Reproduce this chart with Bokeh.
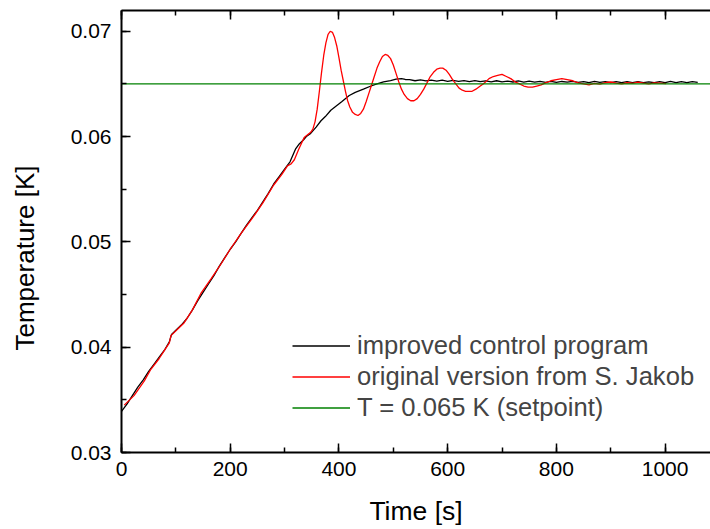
from bokeh.plotting import figure
from bokeh.models import (LinearAxis, SingleIntervalTicker, PrintfTickFormatter,
                          CustomJSTickFormatter, Legend, LegendItem, Range1d, Title)
from bokeh.embed import file_html
from bokeh.resources import INLINE

# ---------------- data ----------------
improved_t = [0, 10, 20, 30, 40, 50, 60, 70, 80, 88, 92, 100, 110, 120, 130, 140,
              150, 160, 170, 180, 190, 200, 210, 220, 230, 240, 250, 260, 270, 280,
              290, 300, 310, 315, 320, 327, 335, 340, 348, 358, 367, 375, 385, 395,
              405, 419, 430, 445, 459, 470, 482, 495, 505, 515, 522,
              530, 540, 550, 560, 570, 580, 590, 600, 610, 620, 630, 640, 650, 660,
              670, 680, 690, 700, 710, 720, 730, 740, 750, 760, 770, 780, 790, 800,
              810, 820, 830, 840, 850, 860, 870, 880, 890, 900, 910, 920, 930, 940,
              950, 960, 970, 980, 990, 1000, 1010, 1020, 1030, 1040, 1050, 1060]
improved_T = [0.0339, 0.0346, 0.0354, 0.0362, 0.0369, 0.0377, 0.0384, 0.0391, 0.0398,
              0.0405, 0.0412, 0.0416, 0.0421, 0.0427, 0.0435, 0.0444, 0.0452, 0.0460,
              0.0468, 0.0477, 0.0485, 0.0493, 0.0500, 0.0508, 0.0516, 0.0523, 0.0530,
              0.0538, 0.0546, 0.0555, 0.0562, 0.0569, 0.0576, 0.0582, 0.0588, 0.0593,
              0.0597, 0.0600, 0.0603, 0.0609, 0.0615, 0.0619, 0.0625, 0.0629, 0.0633,
              0.0639, 0.0642, 0.0645, 0.0648, 0.0650, 0.0652, 0.06532, 0.06545,
              0.06550, 0.06542,
              0.06540, 0.06530, 0.06538, 0.06528, 0.06536, 0.06527, 0.06535, 0.06525,
              0.06533, 0.06524, 0.06532, 0.06522, 0.06531, 0.06521, 0.06529, 0.06520,
              0.06530, 0.06519, 0.06527, 0.06518, 0.06528, 0.06517, 0.06526, 0.06516,
              0.06525, 0.06515, 0.06524, 0.06514, 0.06523, 0.06516, 0.06525, 0.06514,
              0.06522, 0.06513, 0.06523, 0.06514, 0.06521, 0.06512, 0.06522, 0.06513,
              0.06521, 0.06512, 0.06522, 0.06513, 0.06520, 0.06511, 0.06521, 0.06513,
              0.06523, 0.06513, 0.06522, 0.06512, 0.06521, 0.06514]

original_t = [5, 23, 42, 54, 69, 79, 88, 91, 103, 115, 130, 146, 165, 183, 200, 220,
              240, 260, 280, 295, 305, 312, 318, 326, 336,
              348, 352, 356, 360, 364, 368, 372, 376, 380, 384, 388, 392, 396, 400,
              404, 408, 412, 416, 420, 425, 430, 435, 440, 445, 450, 455, 460, 465,
              470, 475, 480, 485, 490, 495, 500, 505, 510, 515, 520, 526, 532, 538,
              544, 550, 556, 562, 568, 574, 580, 586, 591, 597, 603, 609, 615, 621,
              627, 633, 639, 645, 652, 660, 668, 676, 684, 692, 700, 708, 716, 724,
              732, 740, 748, 756, 764, 772, 780, 790, 800, 810, 820, 830, 840, 850,
              860, 870, 880, 890, 900, 910, 920, 930, 940, 950, 960, 970, 980, 990,
              1002]
original_T = [0.0345, 0.0354, 0.0368, 0.0379, 0.0389, 0.0397, 0.0404, 0.0411, 0.0417,
              0.0423, 0.0435, 0.0451, 0.0465, 0.0479, 0.0493, 0.0508, 0.0522, 0.0537,
              0.0554, 0.0564, 0.0572, 0.0574, 0.0578, 0.0588, 0.0599,
              0.0604, 0.0607, 0.0614, 0.0626, 0.0643, 0.0661, 0.0677, 0.0689, 0.0697,
              0.0700, 0.0699, 0.0694, 0.0686, 0.0675, 0.0663, 0.0653, 0.0643, 0.0634,
              0.0628, 0.0623, 0.0621, 0.0620, 0.0622, 0.0626, 0.0633, 0.0641, 0.0649,
              0.0657, 0.0665, 0.0671, 0.0676, 0.0678, 0.0677, 0.0674, 0.0668, 0.0660,
              0.0652, 0.0645, 0.0640, 0.0636, 0.0634, 0.0634, 0.0636, 0.0640, 0.0645,
              0.0651, 0.0657, 0.0661, 0.0664, 0.0665, 0.0665, 0.0663, 0.0659, 0.0654,
              0.0650, 0.0646, 0.0644, 0.0643, 0.0643, 0.0643, 0.0645, 0.0648, 0.0651,
              0.0655, 0.0657, 0.0658, 0.0659, 0.0657, 0.0655, 0.0652, 0.0650, 0.0648,
              0.0647, 0.0647, 0.0648, 0.0649, 0.0651, 0.0653, 0.0654, 0.0655, 0.0654,
              0.0653, 0.0651, 0.0650, 0.0649, 0.06505, 0.06498, 0.06512, 0.06518,
              0.06508, 0.06500, 0.06511, 0.06506, 0.06516, 0.06508, 0.06500, 0.06510,
              0.06507, 0.06502]

setpoint_T = 0.065

labels = ["improved control program", "original version from S. Jakob",
          "T = 0.065 K (setpoint)"]
x_title = "Time [s]"
y_title = "Temperature [K]"

x_min, x_max = 0, 1083.5
y_min, y_max = 0.03, 0.07197

FONT = "Liberation Sans"

p = figure(width=710, height=529, output_backend="svg", toolbar_location=None,
           x_range=Range1d(x_min, x_max), y_range=Range1d(y_min, y_max),
           min_border_left=121, min_border_right=0, min_border_top=10,
           min_border_bottom=77, outline_line_color=None,
           x_axis_label=x_title)
p.xgrid.visible = False
p.ygrid.visible = False
p.background_fill_color = "white"
p.border_fill_color = "white"

p.xaxis.ticker = SingleIntervalTicker(interval=200, num_minor_ticks=2)
p.yaxis.ticker = SingleIntervalTicker(interval=0.01, num_minor_ticks=2)
p.yaxis.formatter = PrintfTickFormatter(format="%.2f")


def style(ax):
    ax.axis_line_width = 2
    ax.axis_line_color = "black"
    ax.major_tick_in = 9
    ax.major_tick_out = 0
    ax.minor_tick_in = 5
    ax.minor_tick_out = 0
    ax.major_tick_line_width = 1.5
    ax.minor_tick_line_width = 1.5
    ax.major_tick_line_color = "black"
    ax.minor_tick_line_color = "black"
    ax.major_label_text_font = FONT
    ax.major_label_text_font_size = "21px"
    ax.major_label_text_color = "black"
    ax.axis_label_text_font = FONT
    ax.axis_label_text_font_size = "26.5px"
    ax.axis_label_text_font_style = "normal"
    ax.axis_label_text_color = "black"


for ax in p.xaxis + p.yaxis:
    style(ax)
p.xaxis.major_label_standoff = 9
p.yaxis.major_label_standoff = 10
p.xaxis.axis_label_standoff = 17

top = LinearAxis(ticker=SingleIntervalTicker(interval=200, num_minor_ticks=2),
                 formatter=CustomJSTickFormatter(code="return ''"))
style(top)
top.major_label_standoff = 0
p.add_layout(top, "above")

# invisible spacer axis between the tick labels and the y title
spacer = LinearAxis(ticker=SingleIntervalTicker(interval=0.01, num_minor_ticks=0),
                    formatter=CustomJSTickFormatter(code="return ''"),
                    axis_line_color=None, major_tick_line_color=None,
                    minor_tick_line_color=None, major_tick_in=0, major_tick_out=23,
                    minor_tick_in=0, minor_tick_out=0, major_label_standoff=0)
p.add_layout(spacer, "left")

# y-axis title as a side title, starting above the frame bottom as in the reference
ytitle = Title(text=y_title, align="left", offset=102, text_font=FONT,
               text_font_size="26px", text_font_style="normal",
               text_color="black")
p.add_layout(ytitle, "left")

r_imp = p.line(improved_t, improved_T, line_color="black", line_width=1.3)
r_orig = p.line(original_t, original_T, line_color="#ff0000", line_width=1.3)
r_set = p.line([x_min, x_max], [setpoint_T, setpoint_T], line_color="#008000",
               line_width=1.3)

legend = Legend(items=[LegendItem(label=labels[0], renderers=[r_imp]),
                       LegendItem(label=labels[1], renderers=[r_orig]),
                       LegendItem(label=labels[2], renderers=[r_set])],
                location=(171, 29), border_line_color=None,
                background_fill_alpha=0, padding=0, margin=0, spacing=0,
                glyph_width=58, glyph_height=31, label_height=31,
                label_standoff=7, label_text_font=FONT,
                label_text_font_size="25.6px")
p.add_layout(legend)

open("out.html", "w").write(file_html(p, INLINE))
